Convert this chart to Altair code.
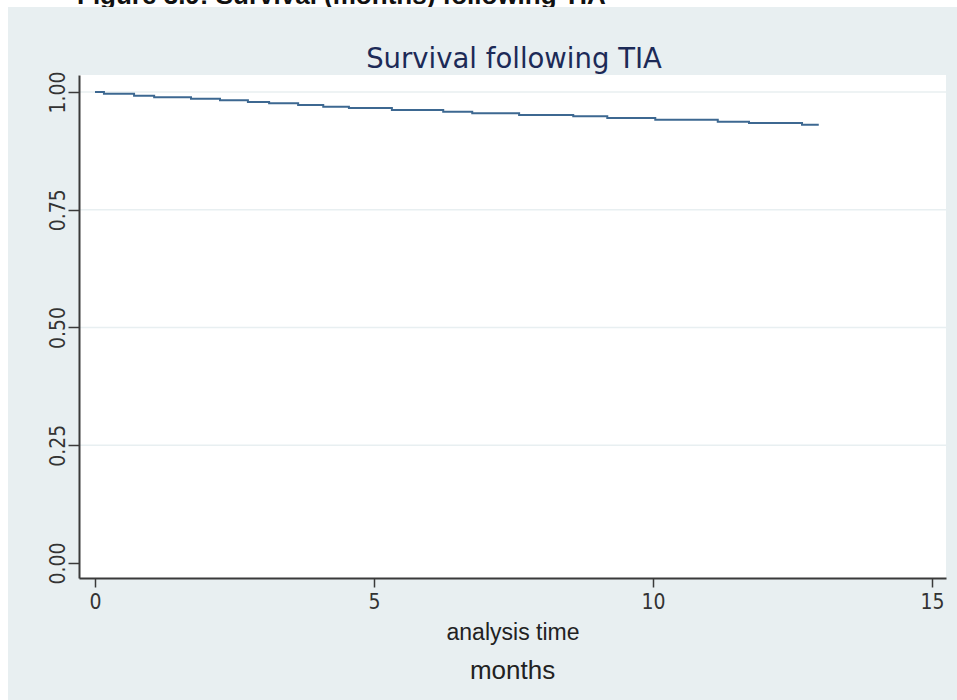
import altair as alt
import pandas as pd

# Kaplan-Meier estimate: step times (months) and survival probability
time_months = [0, 0.16, 0.70, 1.06, 1.72, 2.24, 2.74, 3.12, 3.64, 4.09, 4.55,
               5.32, 6.24, 6.76, 7.60, 8.57, 9.18, 10.04, 11.16, 11.72, 12.67, 12.97]
survival = [1.000, 0.9964, 0.9921, 0.9887, 0.9857, 0.9823, 0.9787, 0.9759, 0.9723,
            0.9687, 0.9659, 0.9616, 0.9580, 0.9546, 0.9510, 0.9482, 0.9446, 0.9409,
            0.9367, 0.9339, 0.9303, 0.9303]

x_ticks = [0, 5, 10, 15]
y_ticks = [0.0, 0.25, 0.50, 0.75, 1.00]
grid_levels = [0.25, 0.50, 0.75, 1.00]

caption = "Figure 3.9: Survival (months) following TIA"
chart_title = "Survival following TIA"
x_title = "analysis time"
note = "months"

W, H = 867, 503
PANEL = "#E8EFF1"
NARROW = "DejaVu Sans Condensed, Liberation Sans Narrow, sans-serif"

km = pd.DataFrame({"t": time_months, "s": survival})
grid = pd.DataFrame({"g": grid_levels})
one = pd.DataFrame({"k": [0]})

x_scale = alt.Scale(domain=[-0.287, 15.25], nice=False, zero=False)
y_scale = alt.Scale(domain=[-0.032, 1.036], nice=False, zero=False)

axis_common = dict(
    domainColor="#3a3a3a", domainWidth=2, tickColor="#3a3a3a", tickWidth=1.5,
    labelFont=NARROW, labelFontSize=21, labelColor="#333333", grid=False, zindex=1,
)

# outer light panel and white plot region
panel = alt.Chart(one).mark_rect(color=PANEL).encode(
    x=alt.value(-71), x2=alt.value(W + 11), y=alt.value(-68), y2=alt.value(H + 122)
)
plot_bg = alt.Chart(one).mark_rect(color="white").encode(
    x=alt.value(0), x2=alt.value(W), y=alt.value(0), y2=alt.value(H)
)

gridlines = alt.Chart(grid).mark_rule(color=PANEL, strokeWidth=1.5).encode(
    y=alt.Y("g:Q", scale=y_scale)
)

curve = alt.Chart(km).mark_line(
    interpolate="step-after", color="#3d6891", strokeWidth=2
).encode(
    x=alt.X("t:Q", scale=x_scale, title=x_title,
            axis=alt.Axis(values=x_ticks, format="d", tickSize=9, labelPadding=4,
                          labelBaseline="top", titleFont="Liberation Sans",
                          titleFontSize=23, titleFontWeight="normal",
                          titleColor="#222222", titlePadding=9, **axis_common)),
    y=alt.Y("s:Q", scale=y_scale, title=None,
            axis=alt.Axis(values=y_ticks, format=".2f", tickSize=11, labelPadding=4,
                          labelAngle=270, labelAlign="center",
                          labelBaseline="alphabetic", **axis_common)),
)

caption_text = alt.Chart(one).mark_text(
    text=caption, font="Liberation Sans", fontSize=26, fontWeight="bold",
    color="#111111", align="left", baseline="alphabetic"
).encode(x=alt.value(-2), y=alt.value(-71))

title_text = alt.Chart(one).mark_text(
    text=chart_title, font="DejaVu Sans", fontSize=27.5, color="#1c2a57",
    align="center", baseline="alphabetic"
).encode(x=alt.value(W / 2 + 1.5), y=alt.value(-7))

note_text = alt.Chart(one).mark_text(
    text=note, font="Liberation Sans", fontSize=26, color="#222222",
    align="center", baseline="alphabetic"
).encode(x=alt.value(W / 2), y=alt.value(H + 101))

chart = alt.layer(
    caption_text, panel, plot_bg, gridlines, curve, title_text, note_text
).properties(
    width=W, height=H,
    padding={"left": 79, "top": 75, "right": 11, "bottom": 122},
    autosize="none",
    background="white",
).configure_view(strokeWidth=0)

chart.save("out.html", embed_options={"renderer": "svg", "actions": False})
